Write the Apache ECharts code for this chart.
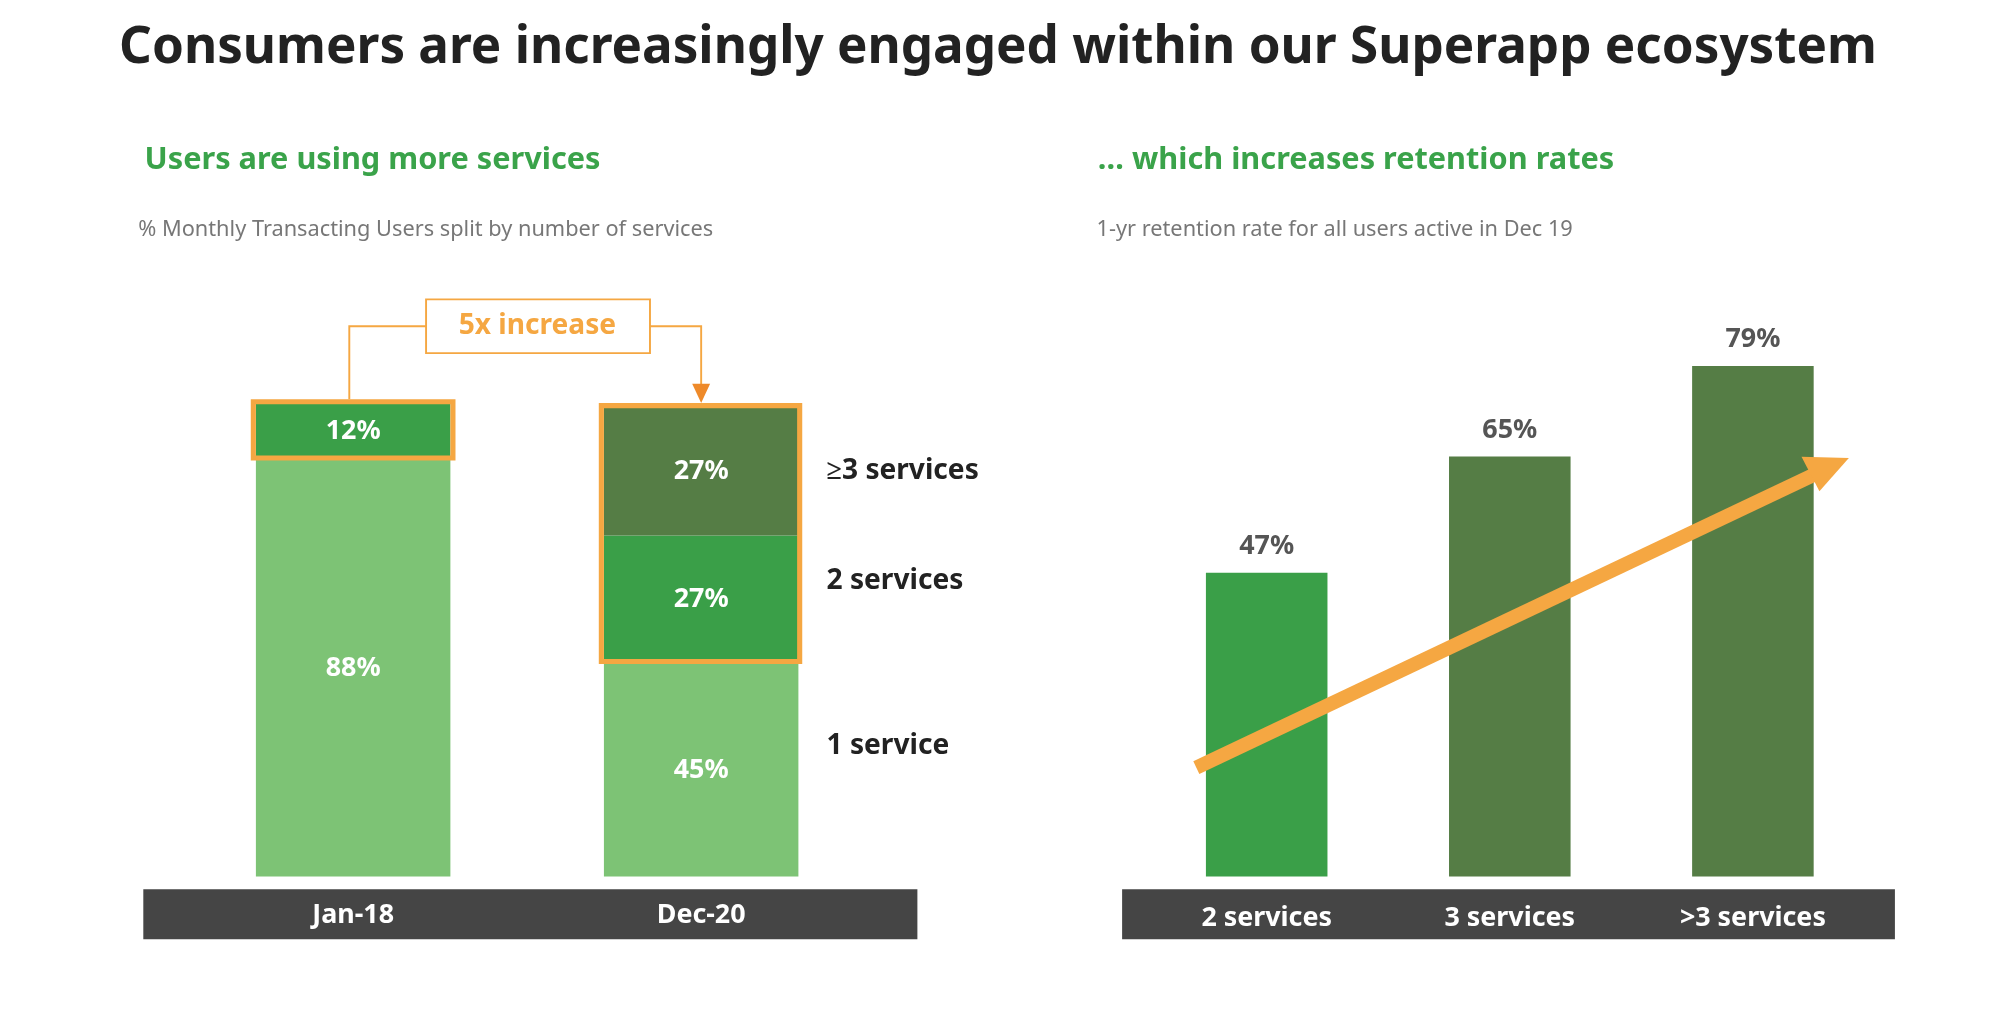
<!DOCTYPE html>
<html>
<head>
<meta charset="utf-8">
<script src="https://cdn.jsdelivr.net/npm/echarts@6/dist/echarts.min.js"></script>
<style>html,body{margin:0;padding:0;background:#fff}#c{width:1996px;height:1024px}</style>
</head>
<body>
<div id="c"></div>
<script>
// data
const mixCategories = ['Jan-18', 'Dec-20'];
const oneService = [88, 45];
const twoServices = [12, 27];
const threePlusServices = [0, 27];
const retentionCategories = ['2 services', '3 services', '>3 services'];
const retentionValues = [47, 65, 79];

const S = v => v * 1996 / 1560; // layout drawn on a 1560-wide sketch
const FONT = 'Noto Sans';
const C1 = '#7dc375', C2 = '#3a9f48', C3 = '#557d45', OR = '#f5a742', BAND = '#454545';

const chart = echarts.init(document.getElementById('c'));

function lbl(color) {
    return {show: true, color: color || '#fff', fontFamily: FONT, fontWeight: 'bold', fontSize: S(21),
        formatter: p => p.value ? p.value + '%' : ''};
}

const option = {
    animation: false,
    grid: [
        {left: S(140), width: S(544), top: S(315), height: S(370)},
        {left: S(895), width: S(570), top: S(180), height: S(505)}
    ],
    xAxis: [
        {type: 'category', gridIndex: 0, data: mixCategories, axisLine: {show: false}, axisTick: {show: false},
            axisLabel: {color: '#fff', fontFamily: FONT, fontWeight: 'bold', fontSize: S(21), margin: S(20)}, z: 10},
        {type: 'category', gridIndex: 1, data: retentionCategories, axisLine: {show: false}, axisTick: {show: false},
            axisLabel: {color: '#fff', fontFamily: FONT, fontWeight: 'bold', fontSize: S(21), margin: S(22)}, z: 10}
    ],
    yAxis: [
        {type: 'value', gridIndex: 0, min: 0, max: 100, show: false},
        {type: 'value', gridIndex: 1, min: 0, max: 100, show: false}
    ],
    series: [
        {type: 'bar', stack: 'a', data: oneService, barWidth: S(152), itemStyle: {color: C1}, label: lbl()},
        {type: 'bar', stack: 'a', data: twoServices, itemStyle: {color: C2}, label: lbl()},
        {type: 'bar', stack: 'a', data: threePlusServices, itemStyle: {color: C3}, label: lbl()},
        {type: 'bar', xAxisIndex: 1, yAxisIndex: 1, barWidth: S(95),
            data: retentionValues.map((v, i) => ({value: v, itemStyle: {color: i === 0 ? C2 : C3}})),
            label: Object.assign(lbl('#555'), {position: 'top', distance: S(10)})}
    ],
    graphic: [
        {type: 'text', left: 'center', top: S(18), style: {text: 'Consumers are increasingly engaged within our Superapp ecosystem',
            fill: '#222', font: 'bold ' + S(40) + 'px "' + FONT + '"'}},
        {type: 'text', x: S(113), y: S(113), style: {text: 'Users are using more services', fill: '#3aa34a', font: 'bold ' + S(24) + 'px "' + FONT + '"'}},
        {type: 'text', x: S(858), y: S(113), style: {text: '… which increases retention rates', fill: '#3aa34a', font: 'bold ' + S(24) + 'px "' + FONT + '"'}},
        {type: 'text', x: S(108), y: S(171), style: {text: '% Monthly Transacting Users split by number of services', fill: '#777', font: S(17) + 'px "' + FONT + '"'}},
        {type: 'text', x: S(857), y: S(171), style: {text: '1-yr retention rate for all users active in Dec 19', fill: '#777', font: S(17) + 'px "' + FONT + '"'}},
        // axis bands
        {type: 'rect', z: 1, shape: {x: S(112), y: S(695), width: S(605), height: S(39)}, style: {fill: BAND}},
        {type: 'rect', z: 1, shape: {x: S(877), y: S(695), width: S(604), height: S(39)}, style: {fill: BAND}},
        // legend labels
        {type: 'text', x: S(646), y: S(357), style: {text: '≥3 services', fill: '#222', font: 'bold ' + S(22) + 'px "' + FONT + '"'}},
        {type: 'text', x: S(646), y: S(443), style: {text: '2 services', fill: '#222', font: 'bold ' + S(22) + 'px "' + FONT + '"'}},
        {type: 'text', x: S(646), y: S(572), style: {text: '1 service', fill: '#222', font: 'bold ' + S(22) + 'px "' + FONT + '"'}},
        // highlight boxes
        {type: 'rect', z: 20, shape: {x: S(198), y: S(314), width: S(156), height: S(44)}, style: {fill: 'none', stroke: OR, lineWidth: S(4)}},
        {type: 'rect', z: 20, shape: {x: S(470), y: S(317), width: S(155), height: S(200)}, style: {fill: 'none', stroke: OR, lineWidth: S(4)}},
        // 5x increase connector
        {type: 'polyline', z: 20, shape: {points: [[S(273), S(312)], [S(273), S(255)], [S(333), S(255)]]}, style: {fill: 'none', stroke: OR, lineWidth: S(1.5)}},
        {type: 'polyline', z: 20, shape: {points: [[S(508), S(255)], [S(548), S(255)], [S(548), S(302)]]}, style: {fill: 'none', stroke: OR, lineWidth: S(1.5)}},
        {type: 'polygon', z: 20, shape: {points: [[S(541), S(300)], [S(555), S(300)], [S(548), S(315)]]}, style: {fill: '#ee8a2a'}},
        {type: 'rect', z: 20, shape: {x: S(333), y: S(234), width: S(175), height: S(42)}, style: {fill: '#fff', stroke: OR, lineWidth: S(1.5)}},
        {type: 'text', z: 21, x: S(420), y: S(255), style: {text: '5x increase', fill: OR, align: 'center', verticalAlign: 'middle', font: 'bold ' + S(22) + 'px "' + FONT + '"'}},
        // trend arrow
        {type: 'line', z: 20, shape: {x1: S(935), y1: S(600), x2: S(1420), y2: S(370)}, style: {stroke: OR, lineWidth: S(11)}},
        {type: 'polygon', z: 20, shape: {points: [[S(1445), S(358)], [S(1408), S(357)], [S(1422), S(384)]]}, style: {fill: OR}}
    ]
};
chart.setOption(option);
</script>
</body>
</html>
